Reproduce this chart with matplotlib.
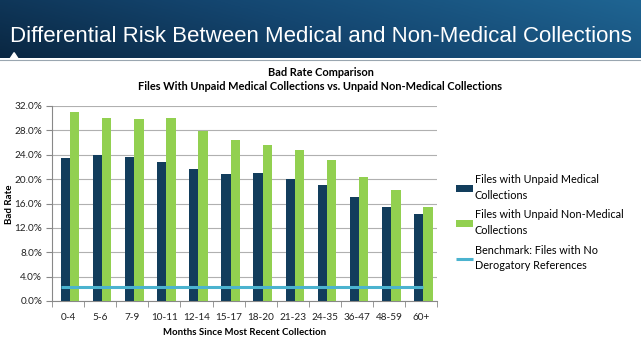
import numpy as np
import matplotlib
matplotlib.use("Agg")
import matplotlib.pyplot as plt
from matplotlib.colors import LinearSegmentedColormap
from matplotlib.ticker import FuncFormatter, MultipleLocator, FixedLocator
from matplotlib.patches import Polygon

categories = ["0-4", "5-6", "7-9", "10-11", "12-14", "15-17", "18-20",
              "21-23", "24-35", "36-47", "48-59", "60+"]
medical = [23.5, 24.0, 23.7, 22.8, 21.7, 20.8, 21.0, 20.0, 19.0, 17.0, 15.5, 14.2]
non_medical = [31.0, 30.0, 29.9, 30.0, 27.9, 26.5, 25.6, 24.7, 23.2, 20.4, 18.2, 15.5]
benchmark = 2.3

navy = "#123d5c"
green = "#92d050"
cyan = "#4bb3cf"

plt.rcParams["font.family"] = ["Lato", "DejaVu Sans"]

fig = plt.figure(figsize=(6.41, 3.41), dpi=100)

# header band with a left-to-right blue gradient
hdr = fig.add_axes([0, 1 - 58.5 / 341, 1, 58.5 / 341])
gx = np.linspace(0, 1, 256)
gy = np.linspace(0, 1, 40)[:, None]
grad = 0.75 * gx[None, :] + 0.25 * (1 - gy)
cmap = LinearSegmentedColormap.from_list("hdr", ["#0a2742", "#144670", "#1f6593"])
hdr.imshow(grad, aspect="auto", cmap=cmap, extent=[0, 1, 0, 1], origin="upper")
hdr.set_xlim(0, 1)
hdr.set_ylim(0, 1)
hdr.axis("off")
hdr.add_patch(Polygon([[0.016, 0], [0.028, 0], [0.022, 0.1]], closed=True,
                      color="white", zorder=3))
fig.text(0.5, 1 - 36 / 341, "Differential Risk Between Medical and Non-Medical Collections",
         color="white", fontsize=16.0, family="Liberation Sans",
         ha="center", va="center")
fig.add_artist(plt.Line2D([0, 1], [1 - 59.5 / 341] * 2, color="#9aa6b0", lw=0.8))

# chart area
ax = fig.add_axes([52 / 641, 1 - 301 / 341, (437.5 - 52) / 641, (301 - 106) / 341])
x = np.arange(len(categories))
w = 0.29
b1 = ax.bar(x - 0.085, medical, width=w, color=navy, zorder=3)
b2 = ax.bar(x + 0.205, non_medical, width=w, color=green, zorder=3)
ln = ax.hlines(benchmark, -0.23, 11.05, color=cyan, lw=2.2, zorder=4)

ax.set_xlim(-0.5, len(categories) - 0.5)
ax.set_ylim(0, 32)
ax.yaxis.set_major_locator(MultipleLocator(4))
ax.yaxis.set_major_formatter(FuncFormatter(lambda v, p: f"{v:.1f}%"))
ax.grid(axis="y", color="#b0b0b0", lw=0.8, zorder=0)
ax.set_xticks(x)
ax.set_xticklabels(categories)
ax.xaxis.set_minor_locator(FixedLocator(np.arange(-0.5, len(categories), 1)))
ax.tick_params(axis="x", which="major", length=0, pad=9, labelsize=7.2, colors="#222222")
ax.tick_params(axis="x", which="minor", length=4, color="#888888")
ax.tick_params(axis="y", length=4, color="#888888", labelsize=7.2, colors="#222222",
               pad=3)
for s in ["top", "right"]:
    ax.spines[s].set_visible(False)
for s in ["left", "bottom"]:
    ax.spines[s].set_color("#888888")

ax.set_xlabel("Months Since Most Recent Collection", fontsize=6.9,
              fontweight="bold", labelpad=4)
fig.text(9 / 641, 1 - 204 / 341, "Bad Rate", fontsize=7.0, fontweight="bold",
         rotation=90, ha="center", va="center")

fig.text(0.5, 1 - 72 / 341, "Bad Rate Comparison", fontsize=7.9,
         fontweight="bold", ha="center", va="center")
fig.text(0.5, 1 - 86 / 341,
         "Files With Unpaid Medical Collections vs. Unpaid Non-Medical Collections",
         fontsize=7.9, fontweight="bold", ha="center", va="center")

leg = fig.legend([b1, b2, ln],
                 ["Files with Unpaid Medical\nCollections",
                  "Files with Unpaid Non-Medical\nCollections",
                  "Benchmark: Files with No\nDerogatory References"],
                 loc="upper left", bbox_to_anchor=(452 / 641, 1 - 170 / 341),
                 frameon=False, fontsize=7.8, handlelength=1.5, handleheight=0.6,
                 handletextpad=0.2, labelspacing=0.8, borderaxespad=0)
for t in leg.get_texts():
    t.set_linespacing(1.5)

fig.savefig("out.png", dpi=100)
